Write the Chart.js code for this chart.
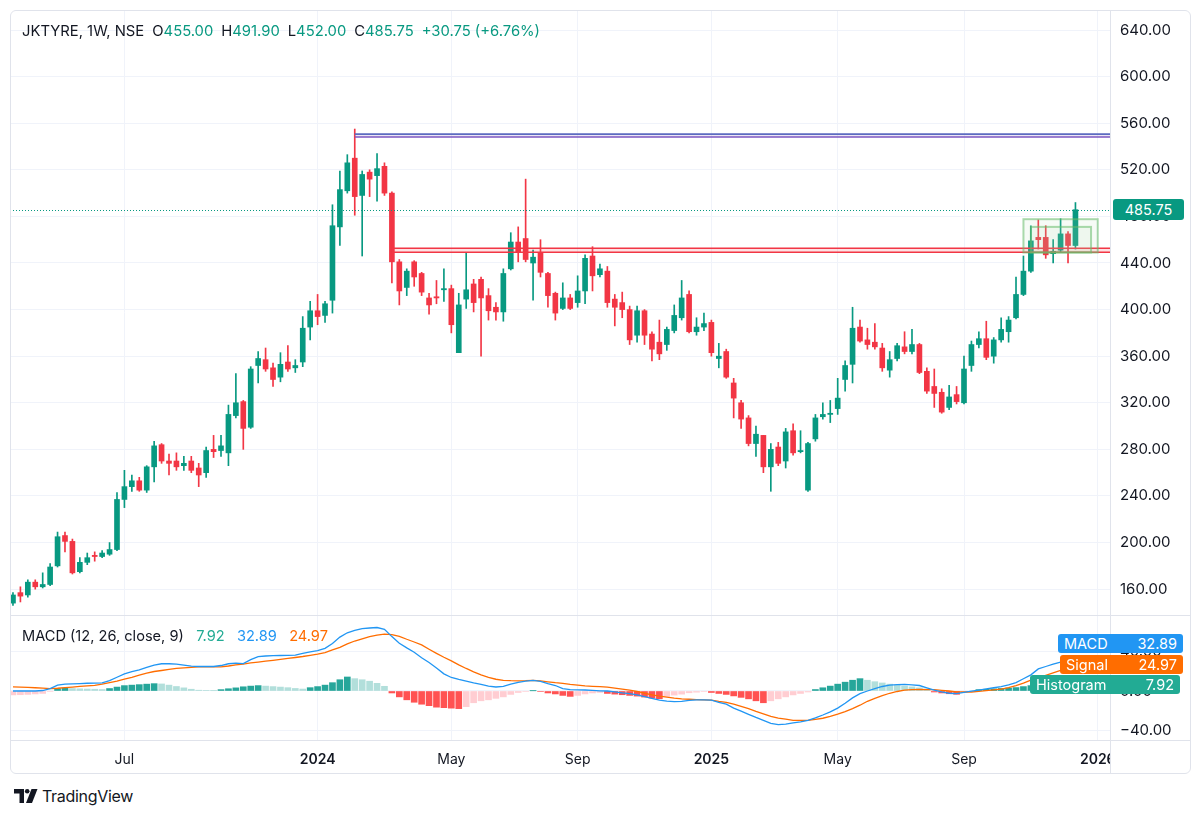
<!DOCTYPE html>
<html><head><meta charset="utf-8">
<script src="https://cdn.jsdelivr.net/npm/chart.js@4.4.1/dist/chart.umd.min.js"></script>
<style>
html,body{margin:0;padding:0;background:#fff;}
body{width:1200px;height:815px;position:relative;overflow:hidden;font-family:Inter,"Noto Sans",sans-serif;color:#131722;}
#frame{position:absolute;left:10px;top:10px;width:1181px;height:764px;border:1px solid #e0e3eb;border-radius:6px;box-sizing:border-box;pointer-events:none;}
.ln{position:absolute;background:#e0e3eb;}
canvas{position:absolute;}
#c1{left:10px;top:10px;}
#c2{left:10px;top:615px;}
#hdr{position:absolute;left:22px;top:22px;font-size:14.8px;white-space:nowrap;}
#hdr .g{color:#089981;}
#hdr .s{margin-left:8px;}
#mlab{position:absolute;left:22px;top:627px;font-size:14.6px;white-space:nowrap;}
.box{position:absolute;color:#fff;font-size:14.5px;border-radius:3px;box-sizing:border-box;padding:0 6px;display:flex;justify-content:space-between;align-items:center;}
#logo{position:absolute;left:14px;top:786px;display:flex;align-items:center;font-size:16px;color:#131722;letter-spacing:-0.3px;}
#clip{position:absolute;left:1111px;top:741px;width:78px;height:32px;background:#fff;}
</style></head>
<body>
<canvas id="c1" width="1180" height="605"></canvas>
<canvas id="c2" width="1180" height="158"></canvas>
<div id="clip"></div>
<div id="frame"></div>
<div class="ln" style="left:1110px;top:10px;width:1px;height:764px"></div>
<div class="ln" style="left:10px;top:615px;width:1180px;height:1px"></div>
<div class="ln" style="left:10px;top:740px;width:1180px;height:1px"></div>
<div id="hdr">JKTYRE, 1W, NSE<span class="s">O</span><span class="g">455.00</span><span class="s">H</span><span class="g">491.90</span><span class="s">L</span><span class="g">452.00</span><span class="s">C</span><span class="g">485.75</span><span class="g s">+30.75 (+6.76%)</span></div>
<div id="mlab">MACD (12, 26, close, 9)&nbsp;&nbsp;&nbsp;<span style="color:#22ab94">7.92</span>&nbsp;&nbsp;&nbsp;<span style="color:#2196f3">32.89</span>&nbsp;&nbsp;&nbsp;<span style="color:#ff6d00">24.97</span></div>
<div class="box" style="left:1113px;top:199px;width:71px;height:21px;background:#089981;justify-content:center;">485.75</div>
<div class="box" style="left:1058px;top:634px;width:125px;height:19px;background:#2196f3;"><span>MACD</span><span>32.89</span></div>
<div class="box" style="left:1060px;top:655px;width:123px;height:19px;background:#ff6d00;"><span>Signal</span><span>24.97</span></div>
<div class="box" style="left:1030px;top:675px;width:150px;height:19px;background:#22ab94;"><span>Histogram</span><span>7.92</span></div>
<div id="logo"><svg width="24" height="14" viewBox="0 0 24 14"><path d="M0 0H10V14H5.5V4.5H0Z" fill="#131722"/><circle cx="13.2" cy="2.3" r="2.3" fill="#131722"/><path d="M17.5 0H23.5L18 14H12Z" fill="#131722"/></svg><span style="margin-left:4px">TradingView</span></div>
<script>
// ---- weekly candles, JKTYRE (Mar 2023 – Dec 2025) ----
const opens = [148,157,155,166,162,164,180,206,201,175,
183,189,188,190,194,237,248,253,245,265,
284,270,270,266,270,264,260,280,279,277,
309,321,299,352,357,350,342,355,350,355,
385,399,395,408,471,502,530,498,518,515,
523,500,441,419,441,431,410,411,417,418,
363,409,422,426,412,402,398,435,458,461,
440,449,431,414,401,410,406,416,446,430,
433,409,406,400,378,399,379,372,370,382,
393,413,381,385,389,358,364,337,320,307,
285,292,265,282,270,296,278,245,289,308,
310,315,340,353,385,374,372,367,348,358,
368,364,370,347,334,329,316,327,320,352,
370,375,360,374,381,393,413,433,462,462,
448,451,465,455];
const highs = [157,162,168,168,174,182,209,209,203,187,
191,192,193,200,243,262,258,256,266,287,
285,276,277,274,274,268,282,292,292,318,
345,322,351,364,367,354,363,369,357,394,
407,413,407,490,519,533,555,519,520,534,
526,501,443,435,442,432,414,425,435,421,
414,449,426,428,418,406,435,466,471,512,
451,460,432,415,423,413,429,447,454,439,
437,413,415,403,403,400,381,391,385,404,
425,416,393,397,391,371,366,341,322,309,
300,292,285,286,298,302,296,286,310,320,
322,341,356,402,391,384,388,371,364,371,
381,383,371,350,349,332,335,334,360,373,
381,390,376,393,394,428,446,472,477,472,
460,478,467,491.9];
const lows = [146,149,153,160,161,163,179,192,173,174,
181,184,187,189,193,230,244,244,243,252,
268,258,262,262,260,248,256,273,274,266,
307,280,298,337,347,334,338,347,346,351,
374,387,389,397,455,500,481,446,497,493,
498,423,404,412,420,412,396,405,407,380,
363,401,398,360,391,391,390,434,441,441,
408,428,402,391,400,400,402,405,416,428,
402,386,393,370,372,370,356,357,365,380,
391,380,378,382,360,350,341,307,298,283,
274,260,244,266,264,275,277,244,287,306,
303,310,330,337,372,366,366,347,342,356,
362,362,345,328,316,311,314,319,319,347,
367,357,354,372,372,392,412,432,452,444,
440,449,440,452];
const closes = [155,154,166,162,164,179,205,201,174,183,
187,188,191,194,237,248,253,245,265,283,
270,268,265,268,262,258,279,278,283,310,
320,298,349,358,349,340,353,349,352,384,
399,394,405,472,503,526,497,516,512,521,
500,441,416,433,428,415,404,410,418,387,
404,417,406,410,399,398,431,458,449,443,
445,432,412,397,410,401,416,444,429,435,
406,402,400,374,399,378,366,362,383,395,
410,381,385,388,363,360,342,324,306,285,
293,265,280,268,295,277,279,285,307,310,
311,324,352,384,373,370,368,350,357,369,
364,370,346,330,328,312,325,321,349,370,
375,359,374,383,391,413,433,459,460,447,
450,465,455,485.75];

// ---- MACD (12, 26, close, 9) ----
const macdLine = [0,0,0,0,0.5,2.4,6,7,7.3,7.6,
7.9,8.1,8.3,10.5,14,17.5,19.8,21.5,24,26.5,
27.8,27.8,27.4,26.3,25.3,25,25,25,26,27.8,
28.5,28,32,35,35.7,36,36.2,36.4,36.7,38.5,
40,41.2,43.5,48.5,55,59.4,61.8,63.7,64.3,64.8,
63,55.5,48.8,44,39.5,34,29,23.5,17.5,13.8,
11.8,10,8.3,6.8,5,4.1,4.8,7,8.8,10,
10.8,9.8,7.5,5.6,2.5,1.5,1.2,1.0,0.6,0.2,
0,-1,-2,-2.7,-4,-5.8,-7.5,-9.3,-10.3,-10.8,
-10.5,-9.5,-9,-9,-9.3,-11.5,-13.5,-17.5,-20.5,-23.8,
-27,-30,-33,-34.4,-33.8,-32.6,-31.5,-30,-27.5,-24.5,
-21.3,-17.5,-12.5,-7,-2.7,0,2.4,4.6,6,6.5,
6.8,6.3,5.6,3.3,1,-1,-2.3,-2.6,-1.4,-0.2,
1,2.1,3.3,4.5,6.2,8.6,12.5,16.5,22.5,25,
27.3,29.5,31.2,32.89];
const signalLine = [4.2,4,3.7,3.3,3,2.5,2.8,3.4,4,4.7,
5.3,5.8,7,8.5,10,12,14,16.2,18.3,19.9,
20.9,22,23,23.7,24.2,24.6,24.6,24.6,24.6,25.5,
26.6,27.5,28.7,29.5,30.4,31.3,32.3,33.2,34.2,35.2,
36.4,37.6,39.2,42,44.5,48,51,53.3,55.5,57,
58,57.5,55.8,52.8,50,47,42.6,38.4,34.4,30.7,
26.7,23,19.6,16.5,14,12,10.9,10.5,10.3,10.5,
10.9,10.3,9.4,8.5,7.8,6.8,6,5.3,4.8,4.4,
4,3,2,0.8,-0.5,-2.3,-4,-5.3,-6.3,-7.3,
-8,-8.4,-8.7,-9,-9.3,-10.5,-11.5,-13.5,-15.8,-18,
-20.8,-23.4,-26,-27.6,-28.8,-30,-30,-30,-29,-27.8,
-26,-23.6,-21,-18,-14.5,-10.5,-7.5,-4.8,-2.3,-0.5,
0.8,1.4,1.6,1.5,1.4,0.7,0,-0.8,-1,-1,
-0.4,0.4,1.2,2,3.5,5.5,8,11,13.6,16,
18.5,21,23,24.97];
const histogram = [-4,-3.8,-3.5,-3,-2.5,-0.5,2.5,3,2.5,2.2,
2,1.8,1.5,2.5,4,5.5,6,6.5,7,7.5,
7.2,6,4.6,3.2,1.8,0.8,0.4,0.3,1.4,2.3,
3.2,4.3,5,5.5,5,4.5,4,3.4,2.6,2,
3.4,4.5,6,8.5,11.5,14.3,12.6,11.5,10,7.8,
4.8,-2,-6,-9,-11.5,-13.5,-15,-16.5,-17,-17.5,
-18,-16,-12,-10,-9,-7.5,-6,-3.5,-1.5,-0.5,
0.2,-0.5,-2,-3,-4.5,-5.5,-4.5,-3,-2,-1.5,
-2.5,-3.2,-3.8,-4.5,-5.2,-6.2,-7.2,-7.8,-5.5,-4.2,
-3.2,-1.8,-1.2,-0.5,-1.5,-2.5,-3.5,-5,-6.5,-8,
-10,-12,-10,-8,-6,-4,-2.5,-1,1.5,3.3,
5,7,9,11,12.6,11,9.5,8.2,7,5.8,
5,4.2,3.2,2,-1,-2,-2.8,-3.4,-1.5,-0.5,
1.4,1.8,2.2,2.6,3,3.5,4.5,5.5,7,8,
8.6,8.8,8.4,7.92];

// ---- axes ----
const timeTickIndex = [15,41,59,76,94,111,128,146];
const timeTickLabels = ['Jul','2024','May','Sep','2025','May','Sep','2026'];
const priceTicks = [160,200,240,280,320,360,400,440,480,520,560,600,640];
const macdTicks = [-40,0,40];
const lastPrice = 485.75;

// ---- drawings on the price pane ----
const purpleLevels = [550.6, 548.2];
const purpleStartIndex = 46;
const redLevels = [452.6, 449.2];
const redStartIndex = 51;
const outerBox = [136, 146, 449, 477.6];   // fromIndex, toIndex, low, high
const innerBox = [137, 145.1, 449, 471];

const X_MIN = -0.4, X_MAX = 147.65;
const UP = '#089981', DOWN = '#f23645';
const FONT = 'Inter, "Noto Sans", sans-serif';

const idx = closes.map((_, i) => i);
const candleColors = idx.map(i => closes[i] >= opens[i] ? UP : DOWN);

const gridColor = '#f0f3fa';
function noPad(s){ s.paddingTop = 0; s.paddingBottom = 0; s.paddingLeft = 0; s.paddingRight = 0; }
function xScaleCfg(showTicks){
  return {
    type:'linear', min:X_MIN, max:X_MAX, offset:false,
    grid:{color:gridColor, drawTicks:false, offset:false},
    border:{display:false},
    afterBuildTicks: s => { s.ticks = timeTickIndex.map(v => ({value:v})); },
    ticks: showTicks ? {
      autoSkip:false, maxRotation:0, padding:11, color:'#131722',
      font: c => ({family:FONT, size:14, weight: /^\d{4}$/.test(timeTickLabels[timeTickIndex.indexOf(c.tick && c.tick.value)]) ? '600' : '400'}),
      callback: v => timeTickLabels[timeTickIndex.indexOf(v)]
    } : {display:false},
    afterFit: s => { s.height = showTicks ? 33 : 0; noPad(s); }
  };
}

const drawings = {
  id:'drawings',
  afterDatasetsDraw(chart){
    const {ctx, chartArea:a, scales:{x, y}} = chart;
    ctx.save();
    ctx.beginPath(); ctx.rect(a.left, a.top, a.right - a.left, a.bottom - a.top); ctx.clip();
    // last price dotted line
    ctx.strokeStyle = UP; ctx.lineWidth = 1; ctx.setLineDash([1,2]);
    const yp = Math.round(y.getPixelForValue(lastPrice)) + 0.5;
    ctx.beginPath(); ctx.moveTo(a.left, yp); ctx.lineTo(a.right, yp); ctx.stroke();
    ctx.setLineDash([]);
    // purple band
    const px0 = x.getPixelForValue(purpleStartIndex);
    const pa = y.getPixelForValue(purpleLevels[0]), pb = y.getPixelForValue(purpleLevels[1]);
    ctx.fillStyle = 'rgba(149,117,205,0.18)';
    ctx.fillRect(px0, pa, a.right - px0, pb - pa);
    ctx.lineWidth = 1.6;
    ctx.strokeStyle = '#5c6bc0'; ctx.beginPath(); ctx.moveTo(px0, pa); ctx.lineTo(a.right, pa); ctx.stroke();
    ctx.strokeStyle = '#7e57c2'; ctx.beginPath(); ctx.moveTo(px0, pb); ctx.lineTo(a.right, pb); ctx.stroke();
    // red band
    const rx0 = x.getPixelForValue(redStartIndex);
    const ra = y.getPixelForValue(redLevels[0]), rb = y.getPixelForValue(redLevels[1]);
    ctx.fillStyle = 'rgba(242,54,69,0.15)';
    ctx.fillRect(rx0, ra, a.right - rx0, rb - ra);
    ctx.strokeStyle = DOWN; ctx.lineWidth = 1.6;
    [ra, rb].forEach(v => { ctx.beginPath(); ctx.moveTo(rx0, v); ctx.lineTo(a.right, v); ctx.stroke(); });
    // green boxes
    ctx.strokeStyle = 'rgba(102,187,106,0.55)'; ctx.lineWidth = 2;
    [outerBox, innerBox].forEach(b => {
      const x0 = x.getPixelForValue(b[0]), x1 = x.getPixelForValue(b[1]);
      const y0 = y.getPixelForValue(b[3]), y1 = y.getPixelForValue(b[2]);
      ctx.fillStyle = 'rgba(165,214,167,0.10)';
      ctx.fillRect(x0, y0, x1 - x0, y1 - y0);
      ctx.strokeRect(x0, y0, x1 - x0, y1 - y0);
    });
    ctx.restore();
  }
};

Chart.defaults.font.family = FONT;
Chart.defaults.devicePixelRatio = 1;

new Chart(document.getElementById('c1'), {
  type:'bar',
  data:{datasets:[
    {label:'wick', data: idx.map(i => ({x:i, y:[lows[i], highs[i]]})), backgroundColor:candleColors, barThickness:1, grouped:false, borderWidth:0},
    {label:'body', data: idx.map(i => ({x:i, y:[opens[i], closes[i]]})), backgroundColor:candleColors, barThickness:5, grouped:false, borderWidth:0, minBarLength:1}
  ]},
  options:{
    responsive:false, animation:false, events:[],
    layout:{padding:0},
    plugins:{legend:{display:false}, tooltip:{enabled:false}},
    scales:{
      x: xScaleCfg(false),
      y:{position:'right', min:137.8, max:657.2,
         grid:{color:gridColor, drawTicks:false}, border:{display:false},
         afterBuildTicks: s => { s.ticks = priceTicks.map(v => ({value:v})); },
         ticks:{padding:10, color:'#131722', font:{family:FONT, size:15}, callback: v => v.toFixed(2)},
         afterFit: s => { s.width = 80; noPad(s); }}
    }
  },
  plugins:[drawings]
});

const histColors = histogram.map((v, i) => {
  const p = i > 0 ? histogram[i-1] : v;
  if (v >= 0) return v > p ? '#26a69a' : '#b2dfdb';
  return v < p ? '#ff5252' : '#ffcdd2';
});

new Chart(document.getElementById('c2'), {
  type:'bar',
  data:{datasets:[
    {type:'line', label:'Signal', data: idx.map(i => ({x:i, y:signalLine[i]})), borderColor:'#ff6d00', borderWidth:1.3, pointRadius:0, tension:0, order:1},
    {type:'line', label:'MACD', data: idx.map(i => ({x:i, y:macdLine[i]})), borderColor:'#2196f3', borderWidth:1.3, pointRadius:0, tension:0, order:0},
    {type:'bar', label:'Histogram', data: idx.map(i => ({x:i, y:histogram[i]})), backgroundColor:histColors, barThickness:6, borderWidth:0, order:2}
  ]},
  options:{
    responsive:false, animation:false, events:[],
    layout:{padding:0},
    plugins:{legend:{display:false}, tooltip:{enabled:false}},
    scales:{
      x: xScaleCfg(true),
      y:{position:'right', min:-50, max:77.55,
         grid:{color:gridColor, drawTicks:false}, border:{display:false},
         afterBuildTicks: s => { s.ticks = macdTicks.map(v => ({value:v})); },
         ticks:{padding:10, color:'#131722', font:{family:FONT, size:15}, callback: v => (v < 0 ? '\u2212' + Math.abs(v).toFixed(2) : v.toFixed(2))},
         afterFit: s => { s.width = 80; noPad(s); }}
    }
  }
});
</script>
</body></html>
